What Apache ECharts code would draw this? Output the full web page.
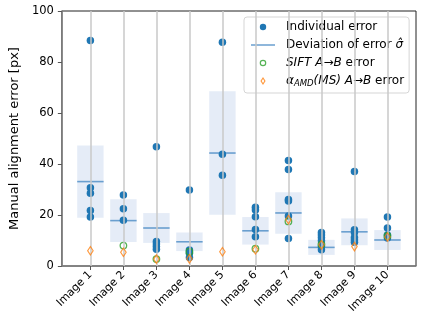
<!DOCTYPE html>
<html>
<head>
<meta charset="utf-8">
<script src="https://cdn.jsdelivr.net/npm/echarts@6/dist/echarts.min.js"></script>
<style>
html,body{margin:0;padding:0;background:#fff;}
#chart{width:424px;height:328px;}
</style>
</head>
<body>
<div id="chart"></div>
<script>
// ---- data ----
const categories = ['Image 1','Image 2','Image 3','Image 4','Image 5','Image 6','Image 7','Image 8','Image 9','Image 10'];
const individualErrors = [
  [88.4, 30.7, 28.5, 21.8, 19.2],
  [27.8, 22.5, 17.9],
  [46.8, 9.6, 8.6, 7.6, 6.6],
  [29.8, 6.3, 5.0, 3.3],
  [87.7, 43.8, 35.6],
  [23.0, 22.0, 19.3, 14.3, 11.5],
  [41.4, 37.8, 26.1, 25.5, 19.6, 10.8],
  [13.1, 12.2, 11.1, 9.9, 7.6, 6.4],
  [37.1, 14.2, 13.1, 11.2, 10.2, 9.3],
  [19.2, 14.9, 12.2, 11.0]
];
const meanError = [33.1, 17.8, 14.9, 9.5, 44.3, 13.8, 20.8, 7.3, 13.4, 10.2];
const deviation = [14.2, 8.4, 5.85, 3.65, 24.2, 5.4, 8.15, 2.95, 5.25, 3.9];
const siftError = [null, 8.0, 2.7, 5.6, null, 6.8, 17.5, 8.5, null, 11.8];
const amdError = [6.0, 5.4, 2.7, 2.8, 5.6, 6.4, 18.2, 8.3, 7.6, 11.4];
const yTicks = [0, 20, 40, 60, 80, 100];

// ---- build ----
const xPos = categories.map((c, i) => i + 1);
const dotData = [];
individualErrors.forEach((arr, i) => arr.forEach(v => dotData.push([xPos[i], v])));
const devData = xPos.map((x, i) => [x, meanError[i], deviation[i]]);
const siftData = xPos.map((x, i) => [x, siftError[i]]).filter(d => d[1] !== null);
const amdData = xPos.map((x, i) => [x, amdError[i]]);

const FONT = 'DejaVu Sans';
const BLUE = '#1f77b4', GREEN = '#2ca02c', ORANGE = '#ff7f0e', LINEBLUE = '#6a9fcf';
const NAMES = ['Individual error', 'Deviation of error \u03c3\u0302', 'SIFT A\u2192B error', '\u03b1AMD(MS) A\u2192B error'];

const iconBox = 'M0,0M30,14';
const icons = [
  'path://' + iconBox + 'M15.2,7A3.2,3.2,0,1,1,8.8,7A3.2,3.2,0,1,1,15.2,7Z',
  'path://' + iconBox + 'M0,6.25H24V7.75H0Z',
  'path://' + iconBox + 'M15.3,7A3.3,3.3,0,1,1,8.7,7A3.3,3.3,0,1,1,15.3,7ZM14.1,7A2.1,2.1,0,1,0,9.9,7A2.1,2.1,0,1,0,14.1,7Z',
  'path://' + iconBox + 'M12,3L14.6,7L12,11L9.4,7ZM12,5L10.7,7L12,9L13.3,7Z'
];
const iconColors = [BLUE, LINEBLUE, GREEN, ORANGE];

const chart = echarts.init(document.getElementById('chart'), null, {renderer: 'canvas'});
chart.setOption({
  animation: false,
  textStyle: {fontFamily: FONT},
  grid: {left: 52, right: 8, top: 11, bottom: 62, show: true, borderColor: '#222', borderWidth: 1, backgroundColor: 'transparent'},
  legend: {
    orient: 'vertical',
    left: 244, top: 17,
    padding: [3, 5, 5, 7],
    itemWidth: 30, itemHeight: 14, itemGap: 4,
    backgroundColor: 'rgba(255,255,255,0.85)',
    borderColor: '#d5d5d5', borderWidth: 1, borderRadius: 3,
    selectedMode: false,
    data: NAMES.map((n, i) => ({name: n, icon: icons[i], itemStyle: {color: iconColors[i], borderWidth: 0}})),
    formatter: function (name) {
      if (name === NAMES[0]) return 'Individual error';
      if (name === NAMES[1]) return 'Deviation of error {i|\u03c3\u0302}';
      if (name === NAMES[2]) return '{i|SIFT A}\u2192{i|B} error';
      return '{i|\u03b1}{sub|AMD}{i|(MS)} {i|A}\u2192{i|B} error';
    },
    textStyle: {
      fontFamily: FONT, fontSize: 12, color: '#000', lineHeight: 14,
      rich: {
        i: {fontFamily: FONT, fontSize: 12, fontStyle: 'italic', color: '#000', lineHeight: 14},
        sub: {fontFamily: FONT, fontSize: 8.5, fontStyle: 'italic', color: '#000', lineHeight: 14, verticalAlign: 'bottom'}
      }
    }
  },
  xAxis: {
    type: 'value', min: 0.135, max: 10.865,
    axisLine: {show: true, lineStyle: {color: '#808080', width: 1.5}},
    axisTick: {show: true, length: 4, lineStyle: {color: '#555'}, customValues: xPos},
    axisLabel: {
      show: true, rotate: 45, fontSize: 11, color: '#000', margin: 7, fontFamily: FONT,
      customValues: xPos,
      formatter: v => categories[Math.round(v) - 1] || ''
    },
    splitLine: {show: false}
  },
  yAxis: {
    type: 'value', min: 0, max: 100, interval: 20,
    name: 'Manual alignment error [px]', nameLocation: 'middle', nameGap: 30,
    nameTextStyle: {fontSize: 13, color: '#000', fontFamily: FONT},
    axisLine: {show: true, lineStyle: {color: '#808080', width: 1.5}},
    axisTick: {show: true, length: 4, lineStyle: {color: '#555'}},
    axisLabel: {fontSize: 11.5, color: '#000', margin: 8, fontFamily: FONT,
      formatter: v => (yTicks.indexOf(v) >= 0 ? String(v) : '')},
    splitLine: {show: false}
  },
  series: [
    {
      type: 'scatter', name: '_grid', data: [], z: 0, silent: true,
      markLine: {
        silent: true, symbol: ['none', 'none'], animation: false,
        label: {show: false},
        lineStyle: {color: '#c9c9c9', width: 1.5, type: 'solid'},
        data: xPos.map(x => ({xAxis: x}))
      }
    },
    {
      type: 'custom', name: NAMES[1], data: devData, z: 1,
      encode: {x: 0, y: 1},
      renderItem: function (params, api) {
        const x = api.value(0), m = api.value(1), s = api.value(2);
        const a = api.coord([x - 0.4, m + s]);
        const b = api.coord([x + 0.4, m - s]);
        const c = api.coord([x - 0.4, m]);
        const d = api.coord([x + 0.4, m]);
        return {type: 'group', children: [
          {type: 'rect', shape: {x: a[0], y: a[1], width: b[0] - a[0], height: b[1] - a[1]},
           style: {fill: 'rgba(100,140,210,0.17)'}},
          {type: 'line', shape: {x1: c[0], y1: c[1], x2: d[0], y2: d[1]},
           style: {stroke: LINEBLUE, lineWidth: 1.6}}
        ]};
      }
    },
    {
      type: 'scatter', name: NAMES[0], data: dotData, z: 3,
      symbol: 'circle', symbolSize: 7.5, itemStyle: {color: BLUE, opacity: 1}
    },
    {
      type: 'scatter', name: NAMES[2], data: siftData, z: 4,
      symbol: 'circle', symbolSize: 6.5,
      itemStyle: {color: 'rgba(255,255,255,0)', borderColor: GREEN, borderWidth: 1.3}
    },
    {
      type: 'scatter', name: NAMES[3], data: amdData, z: 5,
      symbol: 'diamond', symbolSize: [5.5, 8.5],
      itemStyle: {color: 'rgba(255,255,255,0)', borderColor: ORANGE, borderWidth: 1.2}
    }
  ]
});
</script>
</body>
</html>
